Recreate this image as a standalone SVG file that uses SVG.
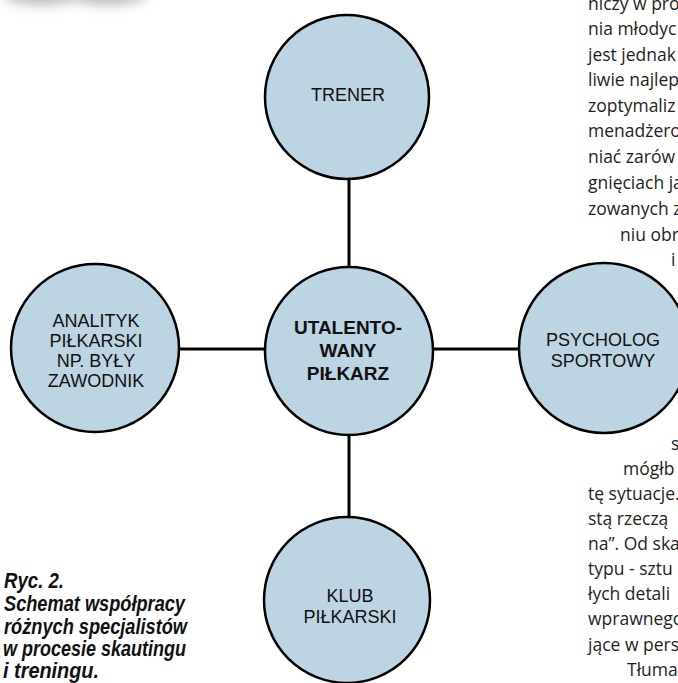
<svg xmlns="http://www.w3.org/2000/svg" width="678" height="683" viewBox="0 0 678 683">
<defs>
<style>
.node circle{fill:#bdd4e2;stroke:#000;stroke-width:2.5}
.lbl{font-family:"Liberation Sans",Arial,sans-serif;font-size:18px;text-anchor:middle;fill:#111}
.bold{font-weight:bold;font-size:19px}
.body{font-family:"Open Sans","Noto Sans",sans-serif;font-size:17.5px;fill:#231f20}
.cap{font-family:"Liberation Sans",Arial,sans-serif;font-weight:bold;font-style:italic;font-size:22px;fill:#111}
.conn line{stroke:#000;stroke-width:3}
</style>
<filter id="blur" x="-50%" y="-100%" width="200%" height="300%"><feGaussianBlur stdDeviation="7"/></filter>
</defs>
<rect width="678" height="683" fill="#fff"/>
<g id="shadow" filter="url(#blur)" fill="#a8a8a8">
<ellipse cx="42" cy="-9" rx="40" ry="12"/>
<ellipse cx="108" cy="-9" rx="40" ry="12"/>
</g>
<g id="connectors" class="conn">
<line x1="180" y1="349" x2="265" y2="349"/>
<line x1="433" y1="349" x2="520" y2="349"/>
<line x1="349" y1="178" x2="349" y2="267"/>
<line x1="349" y1="435" x2="349" y2="518"/>
</g>
<g id="trener" class="node">
<circle cx="347" cy="97" r="82"/>
<text class="lbl" x="348" y="101">TRENER</text>
</g>
<g id="pilkarz" class="node">
<circle cx="349" cy="351" r="84"/>
<text class="lbl bold" x="348" y="334">UTALENTO-</text>
<text class="lbl bold" x="348" y="357">WANY</text>
<text class="lbl bold" x="348" y="380">PIŁKARZ</text>
</g>
<g id="analityk" class="node">
<circle cx="95" cy="348" r="84"/>
<text class="lbl" x="96" y="327">ANALITYK</text>
<text class="lbl" x="96" y="347">PIŁKARSKI</text>
<text class="lbl" x="96" y="367">NP. BYŁY</text>
<text class="lbl" x="96" y="387">ZAWODNIK</text>
</g>
<g id="psycholog" class="node">
<circle cx="604" cy="348" r="85"/>
<text class="lbl" x="603" y="346">PSYCHOLOG</text>
<text class="lbl" x="603" y="367">SPORTOWY</text>
</g>
<g id="klub" class="node">
<circle cx="347" cy="600" r="83"/>
<text class="lbl" x="350" y="602">KLUB</text>
<text class="lbl" x="350" y="623">PIŁKARSKI</text>
</g>
<g id="caption" class="cap">
<text x="4" y="588" textLength="60" lengthAdjust="spacingAndGlyphs">Ryc. 2.</text>
<text x="4" y="611" textLength="181" lengthAdjust="spacingAndGlyphs">Schemat współpracy</text>
<text x="4" y="634" textLength="183" lengthAdjust="spacingAndGlyphs">różnych specjalistów</text>
<text x="3" y="656" textLength="183" lengthAdjust="spacingAndGlyphs">w procesie skautingu</text>
<text x="3" y="678" textLength="96" lengthAdjust="spacingAndGlyphs">i treningu.</text>
</g>
<g id="article" class="body">
<text x="588" y="10">niczy w pro</text>
<text x="588" y="35">nia młodyc</text>
<text x="588" y="61">jest jednak</text>
<text x="588" y="86">liwie najlep</text>
<text x="588" y="112">zoptymaliz</text>
<text x="588" y="137">menadżero</text>
<text x="588" y="163">niać  zarów</text>
<text x="588" y="189">gnięciach ja</text>
<text x="588" y="215">zowanych z</text>
<text x="620" y="241">niu obr</text>
<text x="671" y="266">i</text>
<text x="671" y="450">s</text>
<text x="623" y="475">mógłb</text>
<text x="588" y="500">tę sytuacje.</text>
<text x="588" y="525">stą  rzeczą</text>
<text x="588" y="550">na”. Od skau</text>
<text x="588" y="575">typu - sztu</text>
<text x="588" y="600">łych  detali</text>
<text x="588" y="625">wprawnego</text>
<text x="588" y="651">jące w pers</text>
<text x="627" y="676">Tłuma</text>
</g>
</svg>
